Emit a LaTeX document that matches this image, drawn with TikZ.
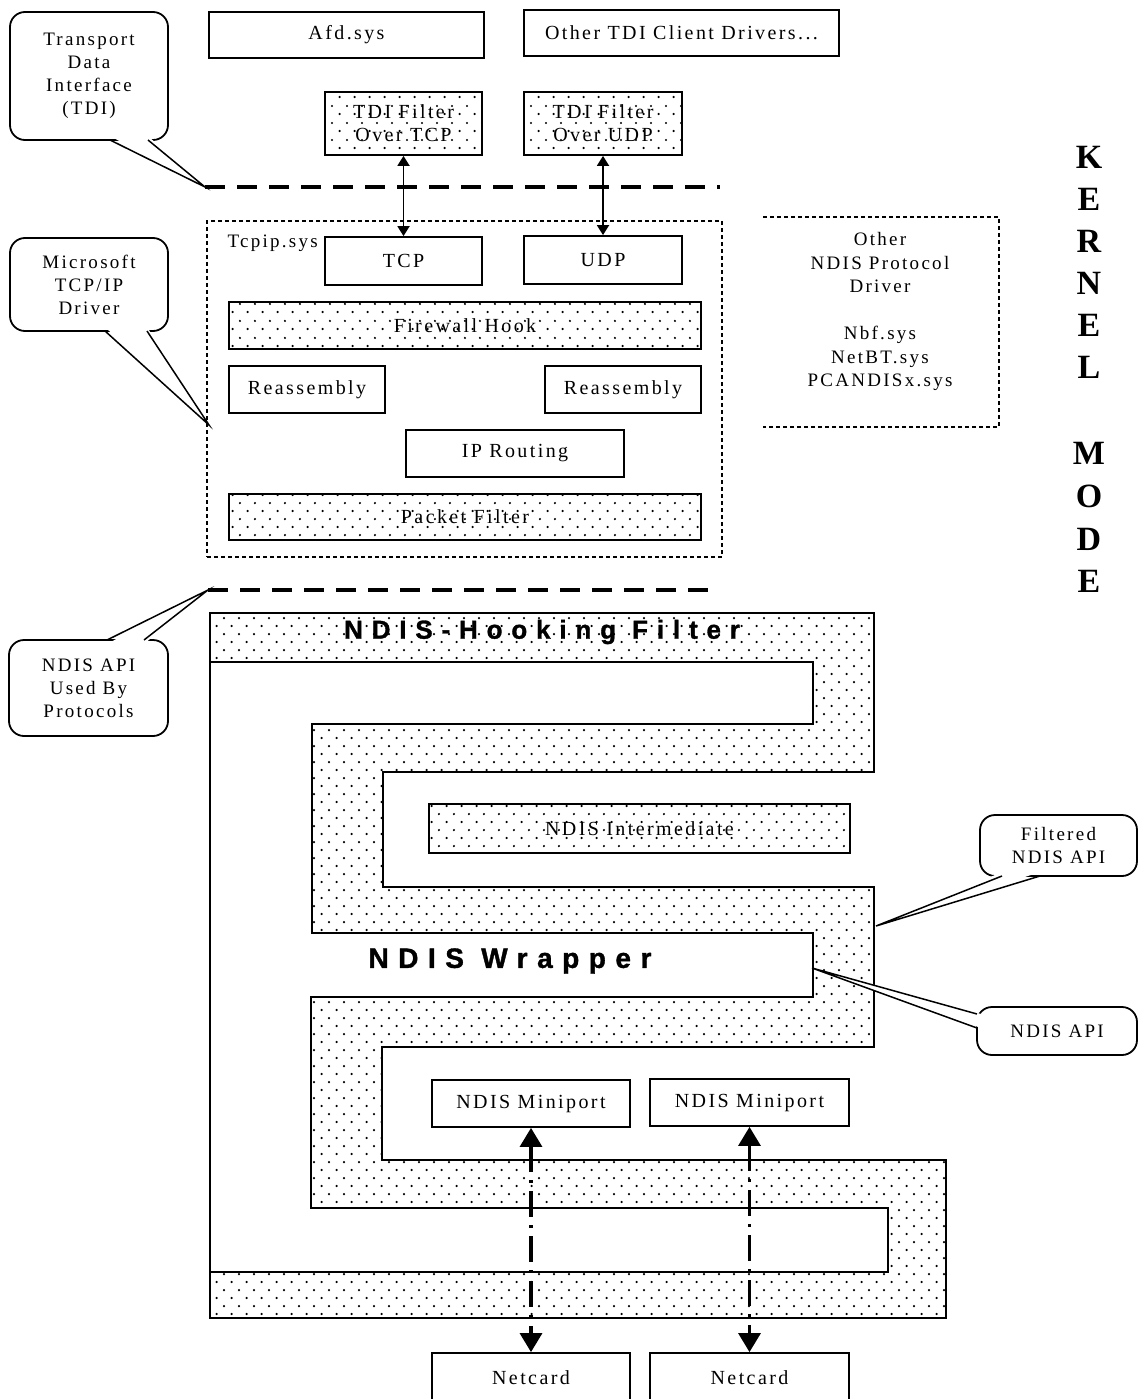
\documentclass[tikz,border=0pt]{standalone}
\usepackage{fontspec}
\setmainfont{Liberation Serif}
\newfontfamily\lblfont[LetterSpace=12]{Liberation Serif}
\newfontfamily\bigfont[LetterSpace=34,FakeBold=1.2]{Liberation Sans}
\usetikzlibrary{patterns.meta,arrows.meta}

% staggered dot screen used for the filter layers
\tikzdeclarepattern{
  name=stagdots,
  type=uncolored,
  bounding box={(0pt,0pt) and (15.3pt,16.4pt)},
  tile size={(15.3pt,16.4pt)},
  code={
    \pgfpathcircle{\pgfpoint{3.8pt}{4.1pt}}{1.25pt}
    \pgfpathcircle{\pgfpoint{11.45pt}{12.3pt}}{1.25pt}
    \pgfusepath{fill}
  }
}

\tikzset{
  sz/.style 2 args={minimum width=#1pt, minimum height=#2pt},
  lbl/.style={font=\lblfont\fontsize{20}{23}\selectfont},
  box/.style={draw, line width=1.8pt, inner sep=0pt, lbl},
  dotbox/.style={box, pattern=stagdots, pattern color=black},
  callout/.style={draw, line width=1.8pt, rounded corners=15pt, fill=white,
    inner sep=0pt, align=center, font=\lblfont\fontsize{19}{23}\selectfont},
  tail/.style={line width=1.5pt, line join=miter},
  boundary/.style={line width=3.5pt, dash pattern=on 20pt off 12pt},
  region/.style={draw, line width=1.5pt, dash pattern=on 4pt off 3pt, inner sep=0pt},
  shell/.style={line width=2.5pt, line join=miter},
  bigtxt/.style={font=\bigfont\bfseries\fontsize{26}{30}\selectfont},
  kern/.style={font=\bfseries\fontsize{34}{40}\selectfont},
  link/.style={line width=1.8pt, {Triangle[length=10pt,width=12pt]}-{Triangle[length=10pt,width=12pt]}},
  wire/.style={line width=3.2pt, dash pattern=on 26pt off 8pt on 3pt off 8pt,
    {Triangle[length=19pt,width=22pt]}-{Triangle[length=19pt,width=22pt]}},
}

\begin{document}
\begin{tikzpicture}[x=1pt,y=-1pt]
\useasboundingbox (0,0) rectangle (1140,1399);
\clip (0,0) rectangle (1140,1399);

% ---------- TDI clients and TDI filters ----------
\node[box, sz={275}{46}] (afd) at (346.5,35) {Afd.sys};
\node[box, sz={315}{46}] (othertdi) at (681.5,33) {Other TDI Client Drivers...};
\node[dotbox, sz={157}{63}, align=center] (ftcp) at (403.5,123.5) {TDI Filter\\Over TCP};
\node[dotbox, sz={158}{63}, align=center] (fudp) at (603,123.5) {TDI Filter\\Over UDP};

% TDI boundary
\coordinate (tdiL) at (205,187);
\coordinate (tdiR) at (720,187);
\draw[boundary] (tdiL) -- (tdiR);

% ---------- Tcpip.sys ----------
\node[region, sz={515}{336}] (tcpip) at (464.5,389) {};
\node[lbl, anchor=west, font=\lblfont\fontsize{19}{22}\selectfont] (tcpiplbl) at (224,243) {Tcpip.sys};
\node[box, sz={157}{48}] (tcp) at (403.5,261) {TCP};
\node[box, sz={158}{48}] (udp) at (603,260) {UDP};
\node[dotbox, sz={472}{47}] (fwhook) at (465,325.5) {Firewall Hook};
\node[box, sz={156}{47}] (reasmL) at (307,389.5) {Reassembly};
\node[box, sz={156}{47}] (reasmR) at (623,389.5) {Reassembly};
\node[box, sz={218}{47}] (iprout) at (515,453.5) {IP Routing};
\node[dotbox, sz={472}{46}] (pktfilt) at (465,517) {Packet Filter};

\draw[link] (ftcp.south) -- (tcp.north);
\draw[link] (fudp.south) -- (udp.north);

% ---------- other protocol drivers (open on the left) ----------
\coordinate (oA) at (763,217);
\coordinate (oB) at (999,217);
\coordinate (oC) at (999,427);
\coordinate (oD) at (763,427);
\draw[line width=1.5pt, dash pattern=on 4pt off 3pt] (oA) -- (oB) -- (oC) -- (oD);
\node[lbl, align=center, font=\lblfont\fontsize{19}{23.5}\selectfont] (otherndis) at (880,311.5)
  {Other\\NDIS Protocol\\Driver\\[23.5pt]Nbf.sys\\NetBT.sys\\PCANDISx.sys};

% ---------- KERNEL MODE ----------
\foreach \ch/\yy [count=\i] in {K/157,E/199,R/241,N/283,E/325,L/367,M/453,O/496,D/539,E/581}
  \node[kern] (k\i) at (1089,\yy) {\ch};

% NDIS protocol boundary
\coordinate (ndisL) at (208,590);
\coordinate (ndisR) at (720,590);
\draw[boundary] (ndisL) -- (ndisR);

% ---------- NDIS-hooking filter (dotted) winding through the wrapper ----------
\fill[pattern=stagdots, pattern color=black]
  (210,613) -- (874,613) -- (874,772) -- (383,772) -- (383,887) -- (874,887)
  -- (874,1047) -- (382,1047) -- (382,1160) -- (946,1160) -- (946,1318)
  -- (210,1318) -- (210,1272) -- (888,1272) -- (888,1208) -- (311,1208)
  -- (311,997) -- (813,997) -- (813,933) -- (312,933) -- (312,724)
  -- (813,724) -- (813,662) -- (210,662) -- cycle;
\draw[shell]
  (210,613) -- (874,613) -- (874,772) -- (383,772) -- (383,887) -- (874,887)
  -- (874,1047) -- (382,1047) -- (382,1160) -- (946,1160) -- (946,1318)
  -- (210,1318) -- (210,1272) -- (888,1272) -- (888,1208) -- (311,1208)
  -- (311,997) -- (813,997) -- (813,933) -- (312,933) -- (312,724)
  -- (813,724) -- (813,662) -- (210,662) -- cycle;
\draw[shell] (210,662) -- (210,1272);

\node[bigtxt] (hooktxt) at (542,632) {NDIS-Hooking Filter};
\node[bigtxt, font=\bigfont\bfseries\fontsize{28}{32}\selectfont] (wraptxt) at (510,961) {NDIS Wrapper};

\node[dotbox, sz={421}{49}] (interm) at (639.5,828.5) {NDIS Intermediate};
\node[box, fill=white, sz={198}{47}] (mini1) at (531,1103.5) {NDIS Miniport};
\node[box, fill=white, sz={199}{47}] (mini2) at (749.5,1102.5) {NDIS Miniport};
\node[box, sz={198}{49}] (net1) at (531,1377.5) {Netcard};
\node[box, sz={199}{49}] (net2) at (749.5,1377.5) {Netcard};

\draw[wire] (mini1.south) -- (net1.north);
\draw[wire] (mini2.south) -- (net2.north);

% ---------- callouts ----------
\node[callout, sz={158}{128}] (cTDI) at (89,76) {Transport\\Data\\Interface\\(TDI)};
\fill[white] (110,136) -- (tdiL) -- (148,136) -- cycle;
\draw[tail] (110,140) -- (tdiL) -- (148,140);

\coordinate (tcpipTip) at (209,425);
\node[callout, sz={158}{93}] (cMS) at (89,284.5) {Microsoft\\TCP/IP\\Driver};
\fill[white] (105,327) -- (tcpipTip) -- (147,327) -- cycle;
\draw[tail] (105,331) -- (tcpipTip) -- (147,331);

\node[callout, sz={159}{96}] (cAPI) at (88.5,688) {NDIS API\\Used By\\Protocols};
\fill[white] (107,644) -- (ndisL) -- (144,644) -- cycle;
\draw[tail] (107,640) -- (ndisL) -- (144,640);

\coordinate (filtTip) at (876,926);
\node[callout, sz={157}{61}] (cFilt) at (1058.5,845.5) {Filtered\\NDIS API};
\fill[white] (1002,872) -- (filtTip) -- (1040,872) -- cycle;
\draw[tail] (1002,876) -- (filtTip) -- (1040,876);

\coordinate (apiTip) at (812,968);
\node[callout, sz={160}{48}] (cNdis) at (1057,1031) {NDIS API};
\fill[white] (981,1014) -- (apiTip) -- (981,1028) -- cycle;
\draw[tail] (977,1014) -- (apiTip) -- (977,1028);
\end{tikzpicture}
\end{document}
